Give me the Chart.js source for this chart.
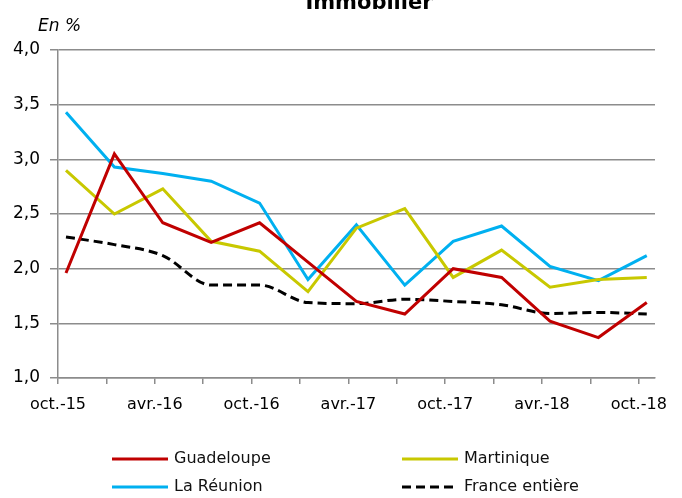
<!DOCTYPE html>
<html>
<head>
<meta charset="utf-8">
<script src="https://cdn.jsdelivr.net/npm/chart.js@4.4.1/dist/chart.umd.min.js"></script>
<style>
  html, body { margin: 0; padding: 0; background: #fff; }
  #wrap { width: 682px; height: 498px; }
</style>
</head>
<body>
<div id="wrap"><canvas id="graphique" width="682" height="498"></canvas></div>
<script>
// trimestres (oct.-15 a oct.-18)
const trimestres = ["oct.-15", "janv.-16", "avr.-16", "juil.-16", "oct.-16", "janv.-17", "avr.-17",
  "juil.-17", "oct.-17", "janv.-18", "avr.-18", "juil.-18", "oct.-18"];
const etiquettesX = ["oct.-15", "avr.-16", "oct.-16", "avr.-17", "oct.-17", "avr.-18", "oct.-18"];

const guadeloupe = [1.96, 3.05, 2.42, 2.24, 2.42, 2.06, 1.70, 1.585, 2.00, 1.92, 1.52, 1.37, 1.69];
const martinique = [2.90, 2.50, 2.73, 2.25, 2.16, 1.79, 2.37, 2.55, 1.92, 2.17, 1.83, 1.90, 1.92];
const reunion = [3.43, 2.93, 2.87, 2.80, 2.60, 1.90, 2.40, 1.85, 2.25, 2.39, 2.02, 1.89, 2.12];
const france = [2.29, 2.22, 2.12, 1.85, 1.85, 1.69, 1.68, 1.72, 1.70, 1.67, 1.59, 1.60, 1.585];

const gris = "#8c8c8c";
const decalage = 0.165; // les graduations tombent un peu avant les points

const points = (serie) => serie.map((v, i) => ({ x: i, y: v }));

// titre, unite et legende dessines a la main
const decor = {
  id: "decor",
  afterDraw(chart) {
    const ctx = chart.ctx;
    ctx.save();
    ctx.fillStyle = "#000";
    ctx.textBaseline = "alphabetic";
    ctx.font = "bold 21px 'DejaVu Sans'";
    ctx.textAlign = "center";
    ctx.fillText("Immobilier", 369, 9);
    ctx.font = "italic 17px 'DejaVu Sans'";
    ctx.textAlign = "left";
    ctx.fillText("En %", 38, 31);

    const pos = [[112, 459], [402, 459], [112, 487], [402, 487]];
    ctx.font = "16px 'DejaVu Sans'";
    ctx.textBaseline = "middle";
    chart.data.datasets.forEach((ds, i) => {
      const [x, y] = pos[i];
      ctx.beginPath();
      ctx.strokeStyle = ds.borderColor;
      ctx.lineWidth = 3;
      ctx.setLineDash(ds.borderDash || []);
      ctx.moveTo(x, y);
      ctx.lineTo(x + 56, y);
      ctx.stroke();
      ctx.setLineDash([]);
      ctx.fillStyle = "#111";
      ctx.fillText(ds.label, x + 62, y);
    });
    ctx.restore();
  }
};

new Chart(document.getElementById("graphique"), {
  type: "line",
  data: {
    datasets: [
      { label: "Guadeloupe", data: points(guadeloupe), borderColor: "#c00000", borderWidth: 3, tension: 0 },
      { label: "Martinique", data: points(martinique), borderColor: "#c8c800", borderWidth: 3, tension: 0 },
      { label: "La Réunion", data: points(reunion), borderColor: "#00b0f0", borderWidth: 3, tension: 0 },
      { label: "France entière", data: points(france), borderColor: "#000000", borderWidth: 3,
        borderDash: [9, 5], cubicInterpolationMode: "monotone" }
    ]
  },
  options: {
    responsive: false,
    animation: false,
    events: [],
    elements: { point: { radius: 0 } },
    layout: { padding: { top: 50, right: 27, bottom: 80, left: 0 } },
    plugins: { legend: { display: false }, tooltip: { enabled: false }, title: { display: false } },
    scales: {
      x: {
        type: "linear",
        min: -decalage,
        max: 12.17,
        afterBuildTicks(s) {
          s.ticks = trimestres.map((_, i) => ({ value: i - decalage }));
        },
        afterFit(s) { s.height = 40; },
        ticks: {
          autoSkip: false,
          maxRotation: 0,
          padding: 11,
          color: "#000",
          font: { family: "DejaVu Sans", size: 16 },
          callback: (v, i) => (i % 2 === 0 ? etiquettesX[i / 2] : "")
        },
        grid: { drawOnChartArea: false, tickLength: 6, color: gris, lineWidth: 1.5 },
        border: { color: gris, width: 1.5 }
      },
      y: {
        min: 1,
        max: 4,
        afterFit(s) { s.width = 58; },
        ticks: {
          stepSize: 0.5,
          padding: 10,
          color: "#000",
          font: { family: "DejaVu Sans", size: 17 },
          callback: (v) => v.toFixed(1).replace(".", ",")
        },
        grid: { color: gris, lineWidth: 1.5, tickLength: 8 },
        border: { color: gris, width: 1.5 }
      }
    }
  },
  plugins: [decor]
});
</script>
</body>
</html>
